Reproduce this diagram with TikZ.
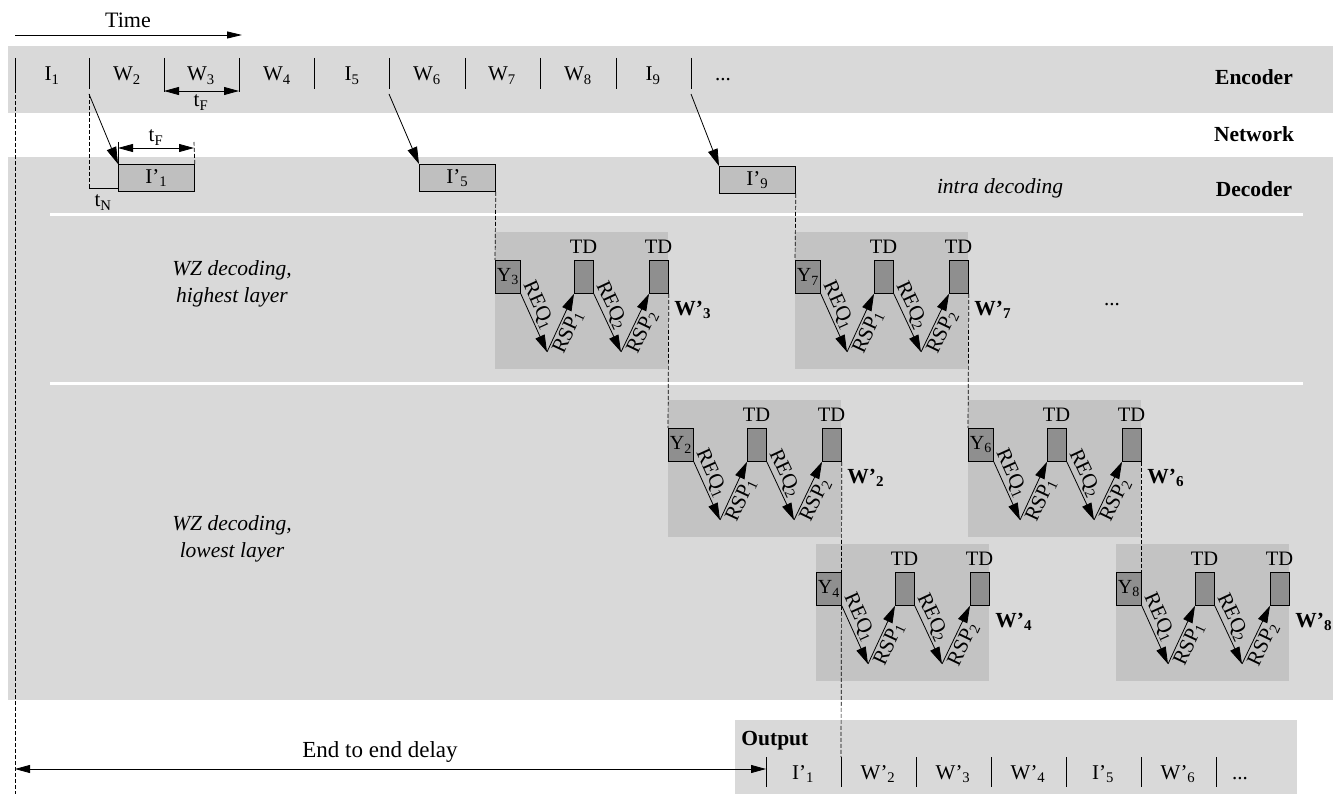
\documentclass[tikz,border=0pt]{standalone}
\usepackage{fontspec}
\setmainfont{Liberation Serif}
\usetikzlibrary{arrows.meta}
\definecolor{bandgray}{HTML}{D9D9D9}
\definecolor{blockgray}{HTML}{C3C3C3}
\definecolor{boxgray}{HTML}{BFBFBF}
\definecolor{darkbox}{HTML}{8F8F8F}
\tikzset{
  lbl/.style={font=\fontsize{21}{25}\selectfont, inner sep=0pt},
  blbl/.style={font=\fontsize{21.5}{25}\selectfont\bfseries, inner sep=0pt},
  ilbl/.style={font=\fontsize{21.5}{27}\selectfont\itshape, inner sep=0pt, align=center},
  smlbl/.style={font=\fontsize{21}{24}\selectfont, inner sep=2pt},
  tdlbl/.style={font=\fontsize{20.5}{24}\selectfont, inner sep=0pt},
  bigtip/.style={-{Triangle[length=17pt,width=10pt]}},
  timetip/.style={-{Triangle[length=15pt,width=7pt]}},
  dbltip/.style={{Triangle[length=15pt,width=8pt]}-{Triangle[length=15pt,width=8pt]}},
  dashln/.style={dash pattern=on 4pt off 2pt, line width=0.7pt},
  ibox/.style={draw, fill=boxgray, minimum width=76pt, minimum height=27pt, inner sep=0pt, font=\fontsize{21}{24}\selectfont},
  blockbg/.style={fill=blockgray, minimum width=173pt, minimum height=137pt, inner sep=0pt},
  ybox/.style={draw, fill=darkbox, minimum width=25pt, minimum height=33pt, inner sep=0pt, font=\fontsize{20}{23}\selectfont},
  tdbox/.style={draw, fill=darkbox, minimum width=19pt, minimum height=33pt, inner sep=0pt},
  sep/.style={white, line width=3pt}
}
\newcommand{\wzblock}[5]{%
\begin{scope}[shift={(#2,#3)}]
  \node[blockbg, anchor=north west] (#1bg) at (0,0) {};
  \node[ybox, anchor=north west] (#1y) at (0,28) {Y\textsubscript{#4}};
  \node[tdbox, anchor=north west] (#1t1) at (79,28) {};
  \node[tdbox, anchor=north west] (#1t2) at (154,28) {};
  \node[tdlbl] (#1l1) at (88.5,15) {TD};
  \node[tdlbl] (#1l2) at (163.5,15) {TD};
  \coordinate (#1d1) at (52,120);
  \coordinate (#1d2) at (126,120);
  \draw[bigtip] (#1y.south east) -- node[smlbl, sloped, above, pos=0.28] (#1q1) {REQ\textsubscript{1}} (#1d1);
  \draw[bigtip] (#1d1) -- node[smlbl, sloped, below, pos=0.42] (#1r1) {RSP\textsubscript{1}} (#1t1.south west);
  \draw[bigtip] (#1t1.south east) -- node[smlbl, sloped, above, pos=0.28] (#1q2) {REQ\textsubscript{2}} (#1d2);
  \draw[bigtip] (#1d2) -- node[smlbl, sloped, below, pos=0.42] (#1r2) {RSP\textsubscript{2}} (#1t2.south west);
  \node[blbl, anchor=west] (#1w) at (179,78) {W’\textsubscript{#5}};
\end{scope}}
\begin{document}
\begin{tikzpicture}[x=1pt,y=-1pt,line width=0.8pt]
\useasboundingbox (0,0) rectangle (1333,794);
% bands
\fill[bandgray] (8,46) rectangle (1333,113);
\fill[bandgray] (8,157) rectangle (1333,700);
\draw[sep] (50,215) -- (1303,215);
\draw[sep] (50,383) -- (1303,383);
\fill[bandgray] (735,720) rectangle (1297,794);

% time arrow
\node[lbl, font=\fontsize{22}{26}\selectfont] (time) at (128,20) {Time};
\coordinate (ta) at (15,35);
\coordinate (tb) at (242,35);
\draw[timetip] (ta) -- (tb);

% encoder bars
\foreach \x in {15,89,314,389,465,540,616,691} \draw (\x,58) -- (\x,89);
\draw (164,58) -- (164,92);
\draw (239,58) -- (239,92);
\coordinate (w3a) at (164,91);
\coordinate (w3b) at (239,91);
\draw[dbltip] (w3a) -- (w3b);
\node[lbl, anchor=base] (tf1) at (201,107) {t\textsubscript{F}};

% encoder labels
\node[lbl, anchor=base] (f1) at (52,81) {I\textsubscript{1}};
\node[lbl, anchor=base] (f2) at (127,81) {W\textsubscript{2}};
\node[lbl, anchor=base] (f3) at (201,81) {W\textsubscript{3}};
\node[lbl, anchor=base] (f4) at (277,81) {W\textsubscript{4}};
\node[lbl, anchor=base] (f5) at (352,81) {I\textsubscript{5}};
\node[lbl, anchor=base] (f6) at (427,81) {W\textsubscript{6}};
\node[lbl, anchor=base] (f7) at (502,81) {W\textsubscript{7}};
\node[lbl, anchor=base] (f8) at (578,81) {W\textsubscript{8}};
\node[lbl, anchor=base] (f9) at (653,81) {I\textsubscript{9}};
\node[lbl, anchor=base] (f10) at (723,81) {...};

% row titles
\node[blbl, anchor=base] (enc) at (1254,85) {Encoder};
\node[blbl, anchor=base] (net) at (1254,142) {Network};
\node[blbl, anchor=base] (dec) at (1254,197) {Decoder};
\node[ilbl, anchor=base] (intra) at (1000,194) {intra decoding};

% intra frames
\node[ibox, anchor=north west] (i1) at (118,164) {I’\textsubscript{1}};
\node[ibox, anchor=north west] (i5) at (419,164) {I’\textsubscript{5}};
\node[ibox, anchor=north west] (i9) at (719,166) {I’\textsubscript{9}};
\coordinate (s1) at (89,94);
\coordinate (s5) at (389,94);
\coordinate (s9) at (691,94);
\draw[bigtip] (s1) -- (i1.north west);
\draw[bigtip] (s5) -- (i5.north west);
\draw[bigtip] (s9) -- (i9.north west);

% tN and tF at I'1
\coordinate (tn1) at (89,188);
\coordinate (tn2) at (118,188);
\draw[dashln] (s1) -- (tn1);
\draw (tn1) -- (tn2);
\node[lbl, anchor=base] (tn) at (103,207) {t\textsubscript{N}};
\coordinate (tfa) at (118,148);
\coordinate (tfb) at (194,148);
\draw (118,142) -- (i1.north west);
\draw[dashln] (194,142) -- (i1.north east);
\draw[dbltip] (tfa) -- (tfb);
\node[lbl, anchor=base] (tf2) at (156,142) {t\textsubscript{F}};

% left captions
\node[ilbl] (hl) at (232,284) {WZ decoding,\\highest layer};
\node[ilbl] (ll) at (232,539) {WZ decoding,\\lowest layer};

% WZ blocks
\wzblock{b3}{495}{232}{3}{3}
\wzblock{b7}{795}{232}{7}{7}
\wzblock{b2}{668}{400}{2}{2}
\wzblock{b6}{968}{400}{6}{6}
\wzblock{b4}{816}{544}{4}{4}
\wzblock{b8}{1116}{544}{8}{8}
\node[lbl] (dots) at (1112,305) {...};

% output row
\node[blbl, anchor=base west] (out) at (741,745) {Output};
\foreach \x in {766,841,916,991,1066,1141,1216} \draw (\x,757) -- (\x,787);
\coordinate (ob2) at (841,757);
\node[lbl, anchor=base] (o1) at (803,779) {I’\textsubscript{1}};
\node[lbl, anchor=base] (o2) at (878,779) {W’\textsubscript{2}};
\node[lbl, anchor=base] (o3) at (953,779) {W’\textsubscript{3}};
\node[lbl, anchor=base] (o4) at (1028,779) {W’\textsubscript{4}};
\node[lbl, anchor=base] (o5) at (1103,779) {I’\textsubscript{5}};
\node[lbl, anchor=base] (o6) at (1178,779) {W’\textsubscript{6}};
\node[lbl, anchor=base] (o7) at (1240,779) {...};

% dashed connectors
\draw[dashln] (15,89) -- (15,794);
\draw[dashln] (i5.south east) -- (b3y.north west);
\draw[dashln] (i9.south east) -- (b7y.north west);
\draw[dashln] (b3t2.south east) -- (b2y.north west);
\draw[dashln] (b7t2.south east) -- (b6y.north west);
\draw[dashln] (b2t2.south east) -- (ob2);
\draw[dashln] (b6t2.south east) -- (b8y.north east);

% end to end delay
\coordinate (eL) at (15,769);
\coordinate (eR) at (766,769);
\draw[dbltip] (eL) -- (eR);
\node[lbl, anchor=base, font=\fontsize{23}{27}\selectfont] (e2e) at (380,757) {End to end delay};
\end{tikzpicture}
\end{document}
